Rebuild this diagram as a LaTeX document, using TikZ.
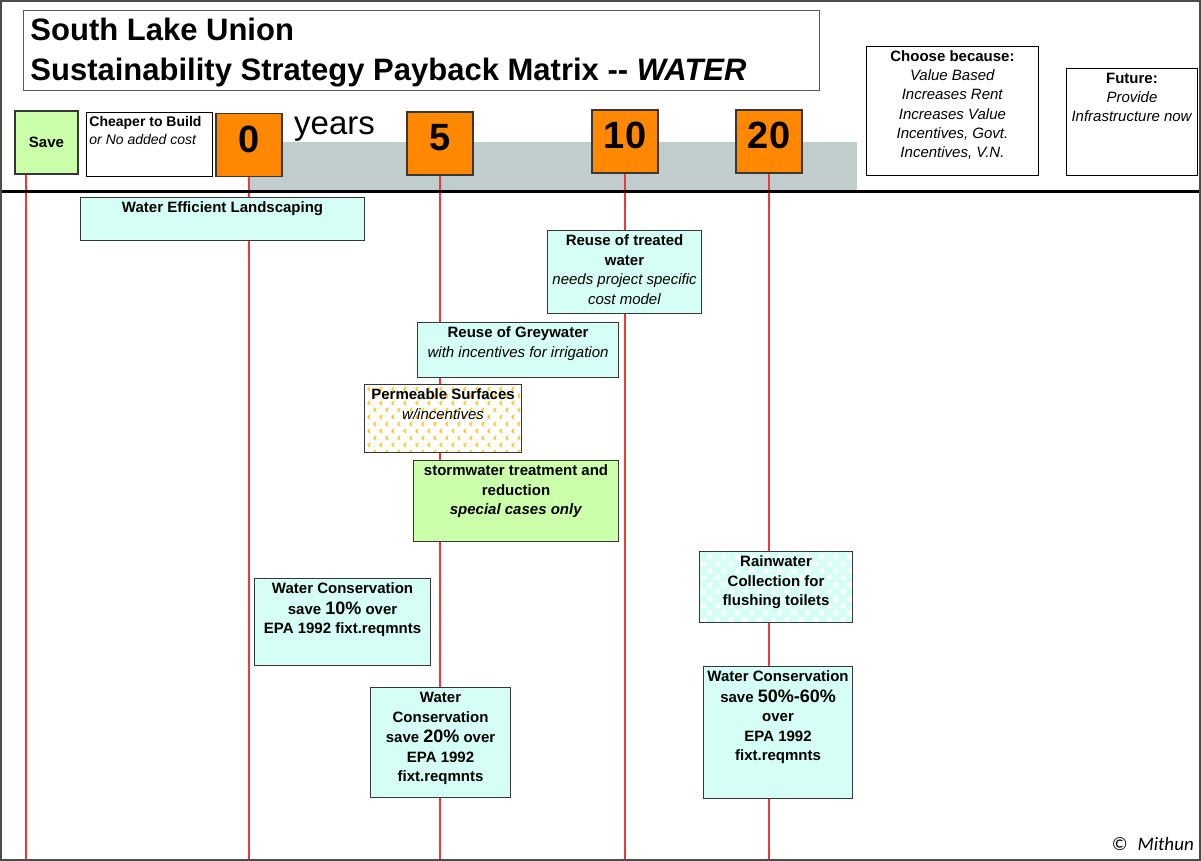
\documentclass[tikz,border=0pt]{standalone}
\usepackage{fontspec}
\setmainfont{Liberation Sans}
\newfontfamily\signfont{Carlito}
\usepackage{xcolor}
\usepackage{tikz}
\usetikzlibrary{patterns, positioning}

\definecolor{yearorange}{RGB}{255,136,0}
\definecolor{savegreen}{RGB}{204,255,170}
\definecolor{watercyan}{RGB}{213,255,246}
\definecolor{bargray}{RGB}{193,204,204}
\definecolor{linered}{RGB}{240,56,56}
\definecolor{edgegray}{RGB}{55,55,55}
\definecolor{permyellow}{RGB}{255,196,0}

% small chevrons for the permeable surfaces box
\pgfdeclarepatternformonly{permchevron}{\pgfqpoint{-1pt}{-1pt}}{\pgfqpoint{13pt}{15pt}}{\pgfqpoint{12pt}{14pt}}{%
  \pgfsetlinewidth{1.1pt}%
  \pgfpathmoveto{\pgfqpoint{4pt}{1pt}}\pgfpathlineto{\pgfqpoint{2pt}{3pt}}\pgfpathlineto{\pgfqpoint{4pt}{5pt}}%
  \pgfpathmoveto{\pgfqpoint{10pt}{8pt}}\pgfpathlineto{\pgfqpoint{8pt}{10pt}}\pgfpathlineto{\pgfqpoint{10pt}{12pt}}%
  \pgfusepath{stroke}%
}
% checks for the rainwater box
\pgfdeclarepatternformonly{raincheck}{\pgfpointorigin}{\pgfqpoint{14pt}{14pt}}{\pgfqpoint{14pt}{14pt}}{%
  \pgfpathrectangle{\pgfqpoint{1pt}{1pt}}{\pgfqpoint{5pt}{5pt}}%
  \pgfpathrectangle{\pgfqpoint{8pt}{8pt}}{\pgfqpoint{5pt}{5pt}}%
  \pgfusepath{fill}%
}

\newcommand{\cardtext}[3]{\parbox[t][#2pt][t]{#1pt}{\centering\rule{0pt}{15pt}#3}}
\newcommand{\bigpct}[1]{{\fontsize{18}{19.5}\selectfont #1}}

\begin{document}
\begin{tikzpicture}[x=1pt, y=-1pt,
    card/.style={rectangle, draw=edgegray, line width=1.1pt, fill=watercyan, inner sep=0pt, anchor=north west, font=\fontsize{15}{19.5}\selectfont},
    headbox/.style={rectangle, draw=black, line width=0.9pt, fill=white, inner sep=0pt, anchor=north west},
    yearbox/.style={rectangle, draw=edgegray, line width=1.1pt, fill=yearorange, minimum width=66pt, minimum height=63pt, font=\fontsize{38}{40}\selectfont\bfseries, text height=27pt, text depth=12pt},
    yearline/.style={draw=linered, line width=1.2pt}]
    \useasboundingbox (0,0) rectangle (1201,861);
    \coordinate (bottom) at (0,860);

    % Header
    \node[headbox, draw=gray!70!black] (title) at (23,10) {\parbox[t][80pt][t]{796pt}{\fontsize{31}{40}\selectfont\bfseries\raggedright\leftskip=7pt\rule{0pt}{30.5pt}South Lake Union\\Sustainability Strategy Payback Matrix -{}- \textit{WATER}}};
    \fill[bargray] (250,142) rectangle (857,191);
    \node[rectangle, draw=edgegray, line width=1.1pt, fill=savegreen, minimum width=63pt, minimum height=63pt, font=\fontsize{15}{18}\selectfont\bfseries] (save) at (46.5,142.5) {Save};
    \node[headbox] (cheap) at (86,112) {\parbox[t][64pt][t]{126pt}{\fontsize{14}{18.5}\selectfont\raggedright\leftskip=3pt\rule{0pt}{14pt}\textbf{Cheaper to Build}\\\textit{or No added cost}}};
    \node[yearbox] (y0) at (249,145) {0};
    \node[anchor=base west, inner sep=0pt, font=\fontsize{33}{36}\selectfont] (years) at (294,135) {years};
    \node[yearbox] (y5) at (440,143.5) {5};
    \node[yearbox] (y10) at (625,141.5) {10};
    \node[yearbox] (y20) at (769,141.5) {20};
    \node[headbox, font=\fontsize{15}{19.2}\selectfont] (choose) at (866,46) {\cardtext{172}{129}{\textbf{Choose because:}\\\textit{Value Based}\\\textit{Increases Rent}\\\textit{Increases Value}\\\textit{Incentives, Govt.}\\\textit{Incentives, V.N.}}};
    \node[headbox, font=\fontsize{15}{19.2}\selectfont] (future) at (1066,68) {\cardtext{131}{107}{\textbf{Future:}\\\textit{Provide}\\\textit{Infrastructure now}}};

    % Payback lines
    \coordinate (savefoot) at ([xshift=-20.5pt]save.south);
    \draw[yearline] (savefoot) -- (savefoot |- bottom);
    \draw[yearline] (y0.south) -- (y0.south |- bottom);
    \draw[yearline] (y5.south) -- (y5.south |- bottom);
    \draw[yearline] (y10.south) -- (y10.south |- bottom);
    \draw[yearline] (y20.south) -- (y20.south |- bottom);
    \draw[line width=3pt] (0,192) -- (1201,192);

    % Strategies
    \node[card] (landscaping) at (80,197) {\cardtext{284}{43}{\textbf{Water Efficient Landscaping}}};
    \node[card] (treated) at (547,230) {\cardtext{154}{83}{\textbf{Reuse of treated}\\\textbf{water}\\\textit{needs project specific}\\\textit{cost model}}};
    \node[card] (greywater) at (417,322) {\cardtext{201}{55}{\textbf{Reuse of Greywater}\\\textit{with incentives for irrigation}}};
    \node[card, preaction={fill=white}, pattern=permchevron, pattern color=permyellow] (permeable) at (364,384) {\cardtext{157}{68}{\textbf{Permeable Surfaces}\\\textit{w/incentives}}};
    \node[card, fill=savegreen] (stormwater) at (413,460) {\cardtext{205}{81}{\textbf{stormwater treatment and}\\\textbf{reduction}\\\textbf{\textit{special cases only}}}};
    \node[card, preaction={fill=watercyan}, pattern=raincheck, pattern color=white] (rainwater) at (699,551) {\cardtext{153}{71}{\textbf{Rainwater}\\\textbf{Collection for}\\\textbf{flushing toilets}}};
    \node[card] (save10) at (254,578) {\cardtext{176}{87}{\bfseries Water Conservation\\[1pt]save \bigpct{10\%} over\\EPA 1992 fixt.reqmnts}};
    \node[card] (save20) at (370,687) {\cardtext{140}{110}{\bfseries Water\\Conservation\\[1pt]save \bigpct{20\%} over\\EPA 1992\\fixt.reqmnts}};
    \node[card] (save50) at (703,666) {\cardtext{149}{132}{\bfseries Water Conservation\\[1pt]save \bigpct{50\%-60\%}\\over\\EPA 1992\\fixt.reqmnts}};

    % Credit
    \node[anchor=base east, inner sep=0pt, font=\signfont\itshape\fontsize{19}{22}\selectfont] (credit) at (1194,850) {\textcopyright\hspace{10pt}Mithun};

    % Frame
    \draw[draw=gray!60!black, line width=1.5pt] (1,1) rectangle (1200,860);
\end{tikzpicture}
\end{document}
